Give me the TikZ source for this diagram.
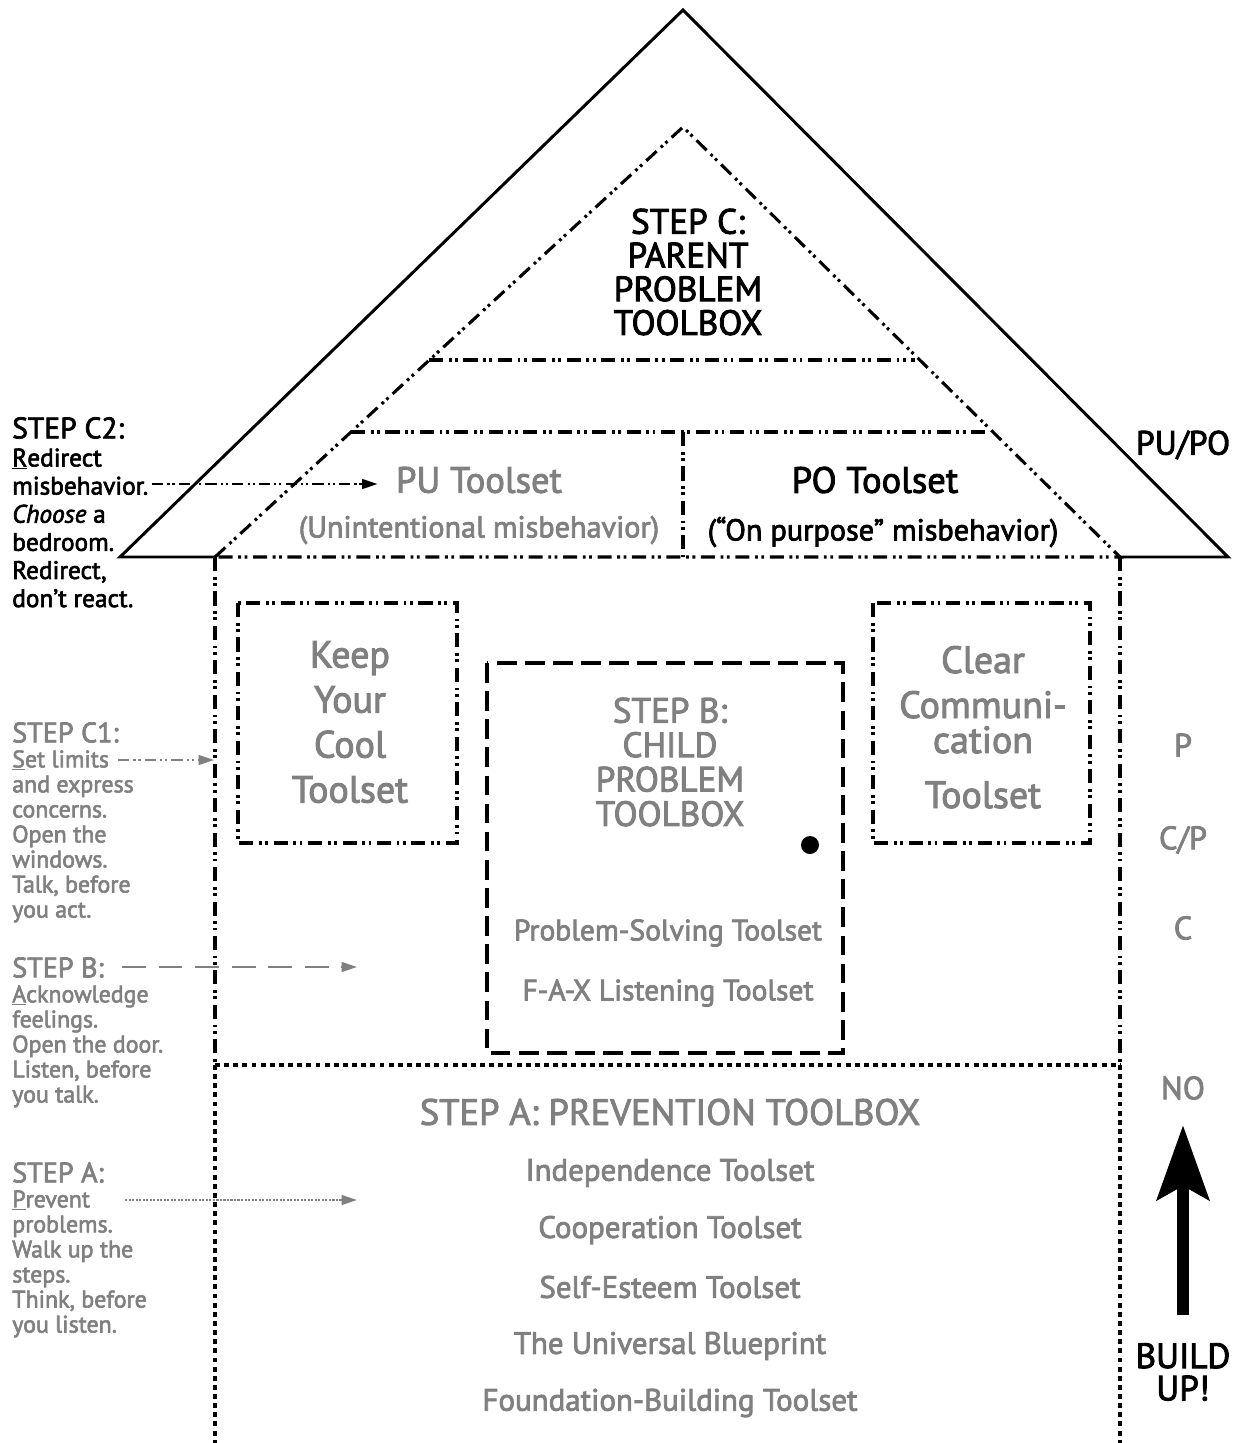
\documentclass[tikz,border=0pt]{standalone}
\usepackage{fontspec}
\setmainfont{PT Sans}[FakeBold=2.5]
\usetikzlibrary{arrows.meta}
\colorlet{tgray}{black!50}

\begin{document}
\begin{tikzpicture}[x=0.025cm, y=-0.025cm, >={Triangle[length=11pt,width=7pt]},
    roof/.style={line width=2.1pt, line join=miter},
    ddot/.style={line width=2.2pt, dash pattern=on 10pt off 4pt on 2pt off 2.5pt on 2pt off 4pt},
    thinddot/.style={line width=1.4pt, dash pattern=on 8pt off 3pt on 1.5pt off 2pt on 1.5pt off 3pt},
    door/.style={line width=2.5pt, dash pattern=on 14pt off 6pt},
    sdash/.style={line width=2.2pt, dash pattern=on 3.5pt off 3pt},
    lbl/.style={text=tgray, inner sep=0pt},
    note/.style={align=left, anchor=north west, inner sep=0pt, font=\fontsize{17}{17.8}\selectfont}]

    % Margens
    \useasboundingbox (0,0) rectangle (1245,1443);

    % Telhado
    \draw[roof] (215,557) -- (120,557) -- (683,10) -- (1228,557) -- (1120,557);

    % Sotao (triangulo interno e divisoes)
    \draw[ddot] (215,557) -- (683,127) -- (1120,557) -- cycle;
    \draw[ddot] (429,360) -- (915,360);
    \draw[ddot] (351,432) -- (988,432);
    \draw[ddot] (683,432) -- (683,557);

    % Paredes
    \draw[ddot] (215,557) -- (215,1065);
    \draw[ddot] (1120,557) -- (1120,1065);
    \draw[sdash] (215,1065) -- (215,1443);
    \draw[sdash] (1120,1065) -- (1120,1443);
    \draw[sdash] (215,1065) -- (1120,1065);

    % Janelas e porta
    \draw[ddot] (238,603) rectangle (457,843);
    \draw[ddot] (873,603) rectangle (1090,843);
    \draw[door] (487,663) rectangle (843,1053);
    \fill (810,845) circle (6.4pt);

    % Textos do sotao
    \node[inner sep=0pt, align=center, font=\fontsize{25}{24}\selectfont] (parent) at (688,272) {STEP C:\\PARENT\\PROBLEM\\TOOLBOX};
    \node[lbl, font=\fontsize{26}{30}\selectfont] (pu) at (479,480) {PU Toolset};
    \node[lbl, font=\fontsize{21.5}{24}\selectfont] (puwhy) at (479,530) {(Unintentional misbehavior)};
    \node[inner sep=0pt, font=\fontsize{26}{30}\selectfont] (po) at (875,480) {PO Toolset};
    \node[inner sep=0pt, font=\fontsize{21.5}{24}\selectfont] (powhy) at (883,532) {(“On purpose” misbehavior)};
    \node[inner sep=0pt, font=\fontsize{24}{26}\selectfont] (pupo) at (1183,445) {PU/PO};

    % Janelas, porta
    \node[lbl, align=center, font=\fontsize{27}{32}\selectfont] (cool) at (350,722) {Keep\\Your\\Cool\\Toolset};
    \node[lbl, anchor=base, font=\fontsize{27}{32}\selectfont] (clear) at (983,673) {Clear};
    \node[lbl, anchor=base, font=\fontsize{27}{32}\selectfont] (commun) at (983,718) {Communi-};
    \node[lbl, anchor=base, font=\fontsize{27}{32}\selectfont] (cation) at (983,753) {cation};
    \node[lbl, anchor=base, font=\fontsize{27}{32}\selectfont] (cleartool) at (983,808) {Toolset};
    \node[lbl, align=center, font=\fontsize{25}{24.5}\selectfont] (child) at (670,762) {STEP B:\\CHILD\\PROBLEM\\TOOLBOX};
    \node[lbl, font=\fontsize{21}{24}\selectfont] (solve) at (668,933) {Problem-Solving Toolset};
    \node[lbl, font=\fontsize{21}{24}\selectfont] (fax) at (668,993) {F-A-X Listening Toolset};

    % Fundacao
    \node[lbl, font=\fontsize{26}{30}\selectfont] (prev) at (670,1112) {STEP A: PREVENTION TOOLBOX};
    \node[lbl, font=\fontsize{22}{26}\selectfont] (indep) at (670,1173) {Independence Toolset};
    \node[lbl, font=\fontsize{22}{26}\selectfont] (coop) at (670,1230) {Cooperation Toolset};
    \node[lbl, font=\fontsize{22}{26}\selectfont] (self) at (670,1287) {Self-Esteem Toolset};
    \node[lbl, font=\fontsize{22}{26}\selectfont] (blue) at (670,1346) {The Universal Blueprint};
    \node[lbl, font=\fontsize{22}{26}\selectfont] (found) at (670,1403) {Foundation-Building Toolset};

    % Coluna da direita
    \node[lbl, font=\fontsize{23}{26}\selectfont] (p) at (1183,745) {P};
    \node[lbl, font=\fontsize{23}{26}\selectfont] (cp) at (1183,840) {C/P};
    \node[lbl, font=\fontsize{23}{26}\selectfont] (c) at (1183,928) {C};
    \node[lbl, font=\fontsize{23}{26}\selectfont] (no) at (1183,1088) {NO};
    \node[inner sep=0pt, align=center, font=\fontsize{25}{23}\selectfont] (build) at (1183,1372) {BUILD\\UP!};
    \draw[line width=8pt, -{Stealth[length=53pt,width=37pt,inset=10pt]}, shorten <=20pt, shorten >=18pt] (build.north) -- (no.south);

    % Passos (texto a esquerda)
    \node[note, font=\fontsize{18}{20}\selectfont] (c2) at (12,417) {{\fontsize{21}{20}\selectfont STEP C2:}\\\underline{R}edirect\\misbehavior.\\\textit{Choose} a\\bedroom.\\Redirect,\\don’t react.};
    \node[note, text=tgray] (c1) at (12,722) {{\fontsize{20}{18}\selectfont STEP C1:}\\\underline{S}et limits\\and express\\concerns.\\Open the\\windows.\\Talk, before\\you act.};
    \node[note, text=tgray] (sb) at (12,957) {{\fontsize{20}{18}\selectfont STEP B:}\\\underline{A}cknowledge\\feelings.\\Open the door.\\Listen, before\\you talk.};
    \node[note, text=tgray] (sa) at (12,1162) {{\fontsize{20}{18}\selectfont STEP A:}\\\underline{P}revent\\problems.\\Walk up the\\steps.\\Think, before\\you listen.};

    % Setas dos passos
    \coordinate (c2from) at (152,484);
    \draw[thinddot, ->, shorten >=13pt] (c2from) -- (c2from -| pu.west);
    \coordinate (c1from) at (118,760);
    \coordinate (c1to) at (214,760);
    \draw[thinddot, tgray, ->] (c1from) -- (c1to);
    \coordinate (sbfrom) at (122,967);
    \coordinate (sbto) at (357,967);
    \draw[tgray, line width=1.4pt, dash pattern=on 17pt off 9pt, ->] (sbfrom) -- (sbto);
    \coordinate (safrom) at (125,1200);
    \coordinate (sato) at (357,1200);
    \draw[tgray, line width=1.2pt, dash pattern=on 1.5pt off 1pt, ->] (safrom) -- (sato);

\end{tikzpicture}
\end{document}
